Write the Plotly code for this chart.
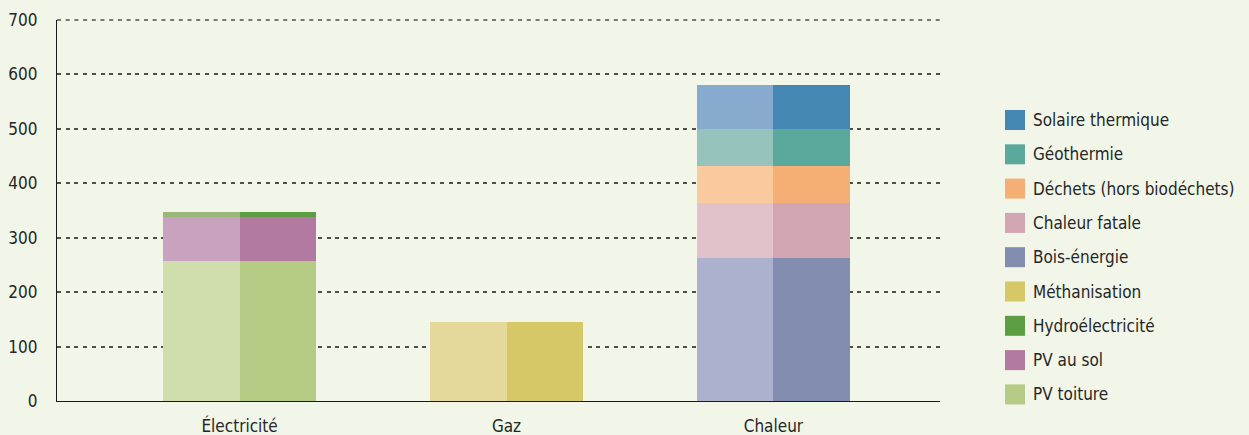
import plotly.graph_objects as go

categories = ["Électricité", "Gaz", "Chaleur"]
series = ["PV toiture", "PV au sol", "Hydroélectricité", "Méthanisation", "Bois-énergie",
          "Chaleur fatale", "Déchets (hors biodéchets)", "Géothermie", "Solaire thermique"]
pv_toiture = [257, 0, 0]
pv_sol = [81, 0, 0]
hydro = [9, 0, 0]
methanisation = [0, 145, 0]
bois = [0, 0, 263]
chaleur_fatale = [0, 0, 101]
dechets = [0, 0, 68]
geothermie = [0, 0, 67]
solaire = [0, 0, 82]
values = [pv_toiture, pv_sol, hydro, methanisation, bois, chaleur_fatale, dechets, geothermie, solaire]
dark = ["#B6CB86", "#B279A1", "#5E9E43", "#D7C867", "#838DB0", "#D2A5B2", "#F5AF75", "#5BA89C", "#4387B2"]
light = ["#D0DDAD", "#C8A3C0", "#9BB87A", "#E4D99B", "#ACB1CD", "#E1C2CA", "#FACA9F", "#96C3BC", "#87AACE"]
yticks = [0, 100, 200, 300, 400, 500, 600, 700]

FONT = "Liberation Sans Narrow, DejaVu Sans Condensed, Roboto, sans-serif"
BG = "#F1F6E9"
W, H = 1249, 435
L, R, T, B = 57, 309, 20, 34
GRID = "#4f4f4a"
DASH = "4px,4.7px"

w = 0.2865
xc = list(range(len(categories)))
fig = go.Figure()
for name, vals, cd, cl in zip(series, values, dark, light):
    fig.add_bar(x=[c - w / 2 for c in xc], y=vals, width=w, marker=dict(color=cl, line=dict(width=0)),
                name=name, showlegend=False, hoverinfo="skip")
    fig.add_bar(x=[c + w / 2 for c in xc], y=vals, width=w, marker=dict(color=cd, line=dict(width=0)),
                name=name, showlegend=False)

# custom legend
pw = W - L - R
ph = H - T - B
shapes = [dict(type="line", xref="paper", yref="paper", x0=0, x1=1, y0=1, y1=1,
               line=dict(color=GRID, width=1.5, dash=DASH), layer="below")]
annotations = []
for i, (name, cd) in enumerate(zip(series[::-1], dark[::-1])):
    yc = 120 + i * 34.3
    y0 = (H - B - (yc + 10)) / ph
    y1 = (H - B - (yc - 10)) / ph
    shapes.append(dict(type="rect", xref="paper", yref="paper",
                       x0=(1005 - L) / pw, x1=(1025 - L) / pw, y0=y0, y1=y1,
                       fillcolor=cd, line=dict(width=0)))
    annotations.append(dict(xref="paper", yref="paper", x=(1031 - L) / pw, y=(H - B - yc) / ph,
                            text=name, showarrow=False, xanchor="left", yanchor="middle",
                            font=dict(family=FONT, size=17, color="#262626")))

fig.update_layout(
    barmode="stack", bargap=0,
    width=W, height=H,
    margin=dict(l=L, r=R, t=T, b=B, pad=0, autoexpand=False),
    paper_bgcolor=BG, plot_bgcolor=BG,
    font=dict(family=FONT, size=17, color="#262626"),
    showlegend=False,
    shapes=shapes, annotations=annotations,
)
fig.update_xaxes(range=[-0.684, 2.624], tickvals=xc, ticktext=categories, showgrid=False,
                 showline=True, linecolor="#1a1a1a", linewidth=1.2, ticks="", ticklabelstandoff=9,
                 zeroline=False, fixedrange=True, automargin=False)
fig.update_yaxes(range=[0, 700], tickvals=yticks, showgrid=True, gridcolor=GRID, gridwidth=1.5,
                 griddash=DASH, showline=True, linecolor="#1a1a1a", linewidth=1.2, ticks="",
                 ticklabelstandoff=15, zeroline=False, fixedrange=True, automargin=False)
fig.write_html("out.html", config={"displayModeBar": False},
               post_script="document.body.style.margin='0';document.body.style.background='" + BG + "';")
